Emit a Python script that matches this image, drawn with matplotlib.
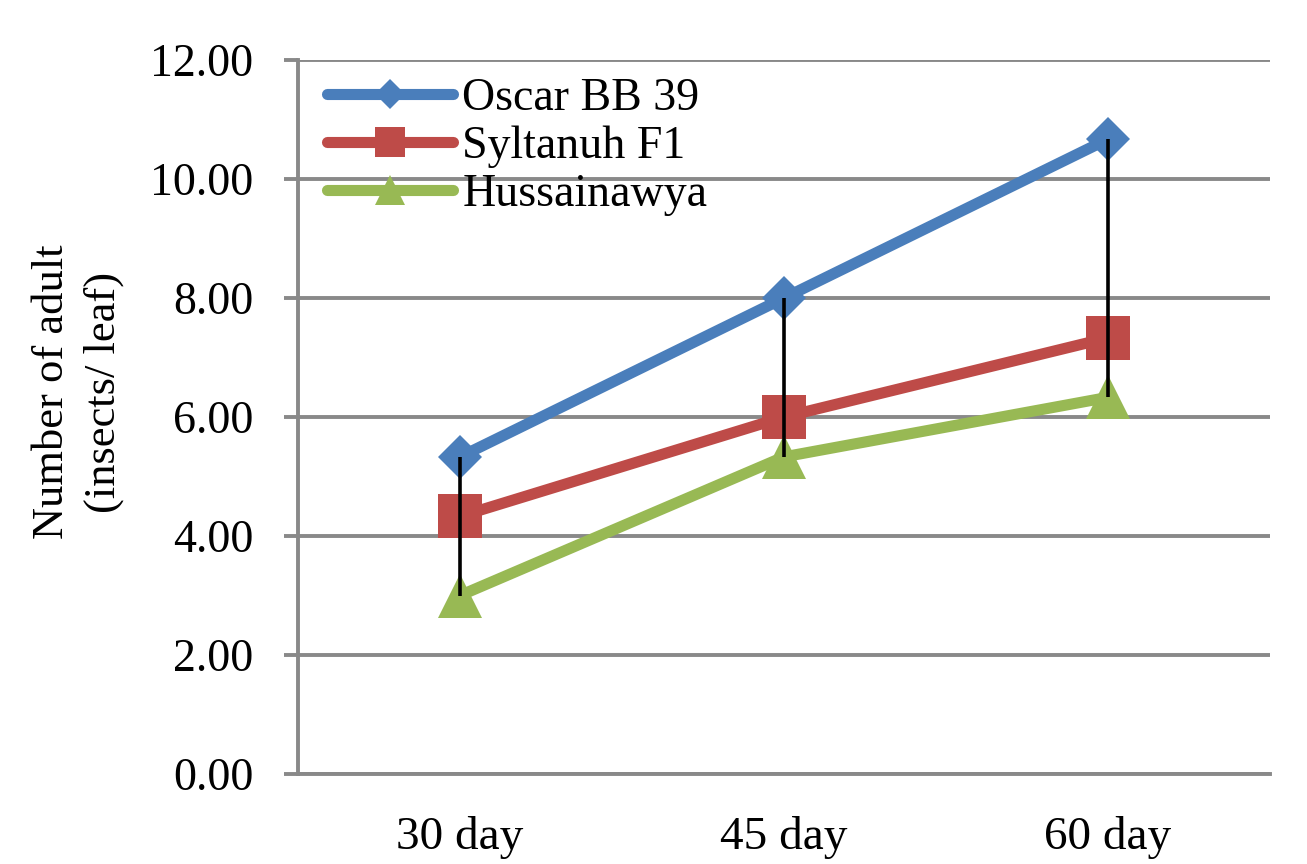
import numpy as np
import matplotlib
matplotlib.use('Agg')
import matplotlib.pyplot as plt

# Data
days = ['30 day', '45 day', '60 day']
oscar = [5.33, 8.00, 10.67]
syltanuh = [4.33, 6.00, 7.33]
hussainawya = [3.00, 5.33, 6.33]
y_ticks = [0, 2, 4, 6, 8, 10, 12]

blue = '#4A7EBB'
red = '#BE4B48'
green = '#98B954'
grey = '#898989'

plt.rcParams['font.family'] = ['Liberation Serif', 'DejaVu Serif']

fig = plt.figure(figsize=(13.07, 8.64), dpi=100)
ax = fig.add_axes([298 / 1307, 90 / 864, 972 / 1307, 714 / 864])

x = np.arange(len(days))

ax.plot(x, oscar, color=blue, lw=8, marker='D', ms=22.5, mew=0,
        solid_capstyle='round', label='Oscar BB 39', zorder=3)
ax.plot(x, syltanuh, color=red, lw=8, marker='s', ms=31, mew=0,
        solid_capstyle='round', label='Syltanuh F1', zorder=3)
ax.plot(x, hussainawya, color=green, lw=8, marker='^', ms=31, mew=0,
        solid_capstyle='round', label='Hussainawya', zorder=3)

# high-low lines
allv = np.array([oscar, syltanuh, hussainawya])
ax.vlines(x, allv.min(axis=0), allv.max(axis=0), color='black', lw=2.6, zorder=5)

ax.set_xlim(-0.5, 2.5)
ax.set_ylim(0, 12)
ax.set_yticks(y_ticks)
ax.set_yticklabels([f'{v:.2f}' for v in y_ticks])
ax.set_xticks(x)
ax.set_xticklabels(days)

ax.grid(axis='y', color=grey, lw=2.8, zorder=0)
ax.set_axisbelow(True)
for s in ['top', 'right']:
    ax.spines[s].set_visible(False)
for s in ['left', 'bottom']:
    ax.spines[s].set_color(grey)
    ax.spines[s].set_linewidth(2.8)

ax.tick_params(axis='y', length=10, width=2.8, color=grey, pad=22, labelsize=33)
ax.tick_params(axis='x', length=0, pad=30, labelsize=34)

leg = ax.legend(loc='upper left', bbox_to_anchor=(0.03, 0.976), frameon=False,
                fontsize=33, handlelength=2.75, handletextpad=0.2,
                labelspacing=0.12, borderpad=0, borderaxespad=0, markerscale=0.68)

fig.text(78 / 1307, 1 - 392 / 864, 'Number of adult\n(insects/ leaf)', rotation=90,
         ha='center', va='center', fontsize=32, linespacing=1.35)

fig.savefig('out.png', dpi=100)
